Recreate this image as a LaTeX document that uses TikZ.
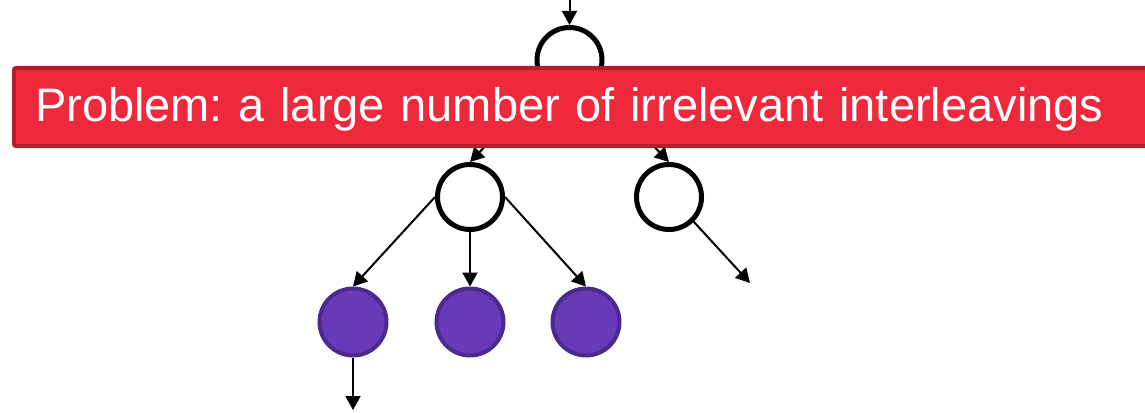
\documentclass[tikz,border=0pt]{standalone}
\usepackage{fontspec}
\setmainfont{Liberation Sans}
\usetikzlibrary{arrows.meta}
\frenchspacing

\definecolor{bannerred}{HTML}{EE293C}
\definecolor{bannerdark}{HTML}{B21E2E}
\definecolor{leafpurple}{HTML}{673AB7}
\definecolor{leafdark}{HTML}{4A2A8C}

\begin{document}
\begin{tikzpicture}[x=1pt, y=-1pt, ->, >={Triangle[length=14pt, width=15pt]}, line width=2pt]

\useasboundingbox (0,0) rectangle (1145,412);

\tikzstyle{every node}=[circle, draw=black, line width=5pt, fill=white, minimum size=65pt, inner sep=0pt]
\tikzstyle{leaf}=[fill=leafpurple, draw=leafdark, line width=4pt, minimum size=67pt]
\tikzstyle{banner}=[rectangle, minimum size=0pt, draw=bannerdark, fill=bannerred, line width=4pt,
                    rounded corners=2pt, text=white, anchor=west, align=left,
                    text width=1098pt, inner xsep=21pt, inner ysep=0pt, minimum height=78pt,
                    text height=39pt, text depth=10pt, font=\fontsize{47}{50}\selectfont]

\draw    (569.5, 60)  node (root)  {}
         (470,  197)  node (left)  {}
         (669,  197)  node (right) {}
         (353,  322)  node[leaf] (la) {}
         (470,  322)  node[leaf] (lb) {}
         (586,  322)  node[leaf] (lc) {};

\coordinate (in)   at (569.5, 0);
\coordinate (out1) at (750, 283);
\coordinate (out2) at (353, 410);

\draw (in) -- (root);
\draw (root.south west) -- (left.north);
\draw (root.south east) -- (right.north);
\draw (left.west) -- (la.north);
\draw (left) -- (lb);
\draw (left.east) -- (lc.north);
\draw (right.south east) -- (out1);
\draw (la) -- (out2);

% the banner goes on top of the tree
\node[banner] (prob) at (12, 107) {Problem: a large number of irrelevant interleavings};

\end{tikzpicture}
\end{document}
